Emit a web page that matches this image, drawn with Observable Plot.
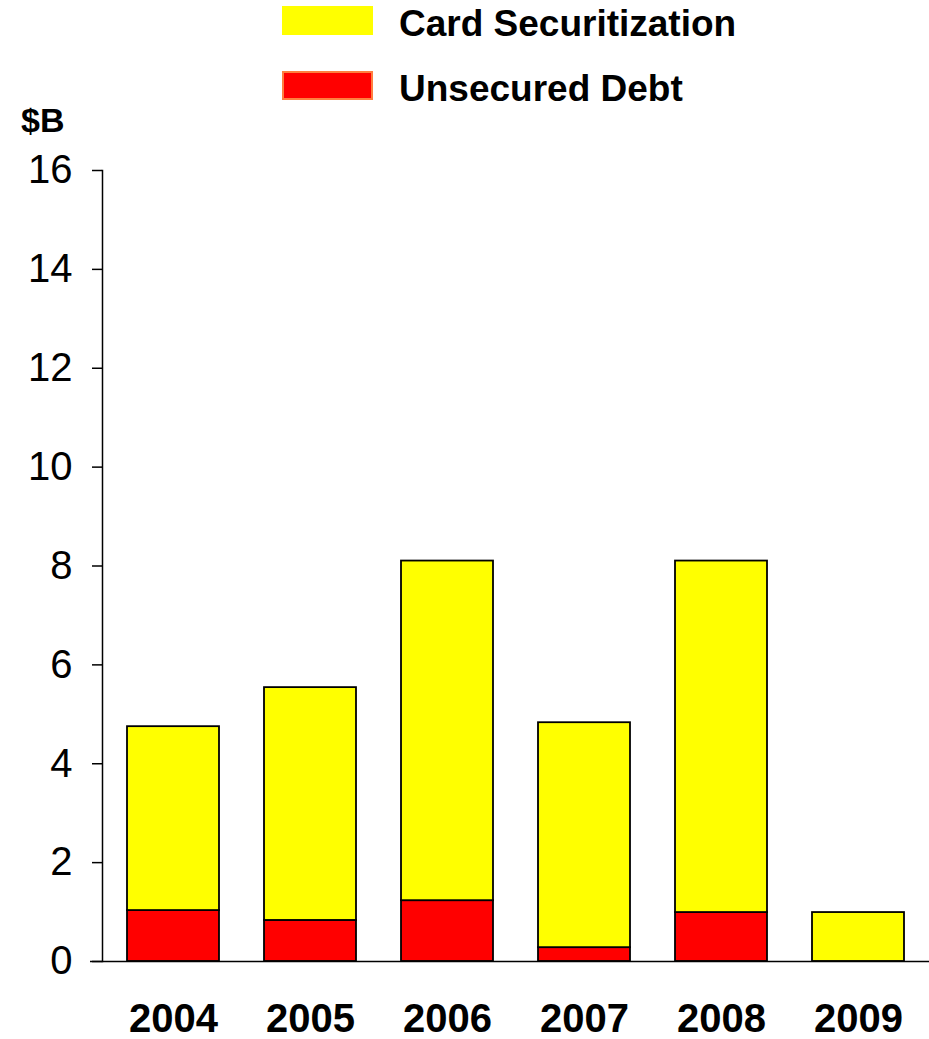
<!DOCTYPE html>
<html>
<head>
<meta charset="utf-8">
<script src="https://cdn.jsdelivr.net/npm/d3@7"></script>
<script src="https://cdn.jsdelivr.net/npm/@observablehq/plot@0.6"></script>
<style>
  body { margin: 0; background: #fff; font-family: "Liberation Sans", Arial, sans-serif; color: #000; }
  #wrap { position: relative; width: 929px; }
  #legend { position: relative; height: 140px; }
  .sw { position: absolute; left: 282px; width: 91px; height: 29px; box-sizing: border-box; }
  .lt { position: absolute; left: 399px; font-weight: bold; font-size: 37px; line-height: 37px; white-space: nowrap; }
  .unit { position: absolute; left: 21px; top: 103px; font-weight: bold; font-size: 34px; line-height: 34px; }
</style>
</head>
<body>
<div id="wrap">
  <div id="legend"></div>
  <div id="chart"></div>
</div>
<script>
// Issuance by year, $B
const years = ["2004", "2005", "2006", "2007", "2008", "2009"];
const unsecuredDebt = [1.03, 0.83, 1.23, 0.28, 0.99, 0];
const cardSecuritization = [3.72, 4.71, 6.87, 4.55, 7.11, 0.99];

const seriesNames = ["Card Securitization", "Unsecured Debt"];
const seriesColors = ["#FFFF00", "#FF0000"];
const seriesBorders = ["#FFFF00", "#FF7F3F"];
const stackOrder = ["Unsecured Debt", "Card Securitization"];
const yTicks = [0, 2, 4, 6, 8, 10, 12, 14, 16];
const unitLabel = "$B";

// Long-format rows for the stacked bars (unsecured debt at the bottom)
const rows = [];
years.forEach((year, i) => {
  rows.push({ year, series: "Unsecured Debt", value: unsecuredDebt[i] });
  rows.push({ year, series: "Card Securitization", value: cardSecuritization[i] });
});

// Legend above the chart
const legend = document.getElementById("legend");
const legendTops = [4.7, 69.7];
seriesNames.forEach((name, i) => {
  const sw = document.createElement("div");
  sw.className = "sw";
  sw.style.top = (legendTops[i] + 1.5) + "px";
  sw.style.background = seriesColors[i];
  sw.style.border = "2px solid " + seriesBorders[i];
  legend.appendChild(sw);
  const t = document.createElement("div");
  t.className = "lt";
  t.style.top = legendTops[i] + "px";
  t.textContent = name;
  legend.appendChild(t);
});
const unit = document.createElement("div");
unit.className = "unit";
unit.textContent = unitLabel;
legend.appendChild(unit);

const chart = Plot.plot({
  width: 929,
  height: 899,
  marginTop: 30,
  marginBottom: 78,
  marginLeft: 102,
  marginRight: 0,
  style: { fontFamily: "'Liberation Sans', Arial, sans-serif", background: "white", overflow: "visible", color: "black" },
  x: { domain: years, range: [100.5, 930.5], paddingInner: 0.33, paddingOuter: 0.18, axis: null },
  y: { domain: [0, 16], axis: null },
  color: { domain: seriesNames, range: seriesColors },
  marks: [
    Plot.barY(rows, {
      x: "year", y: "value", fill: "series", order: stackOrder,
      stroke: "black", strokeWidth: 1.8
    }),
    Plot.axisY({ ticks: yTicks, tickSize: 10, tickPadding: 20, fontSize: 40, tickFormat: d => String(d), strokeWidth: 1.5, label: null }),
    Plot.axisX({ tickSize: 0, tickPadding: 42, fontSize: 40, fontWeight: "bold", label: null }),
    Plot.ruleY([0], { insetLeft: -12, strokeWidth: 1.5 }),
    Plot.frame({ anchor: "left", strokeWidth: 1.5 })
  ]
});
document.getElementById("chart").appendChild(chart);
</script>
</body>
</html>
